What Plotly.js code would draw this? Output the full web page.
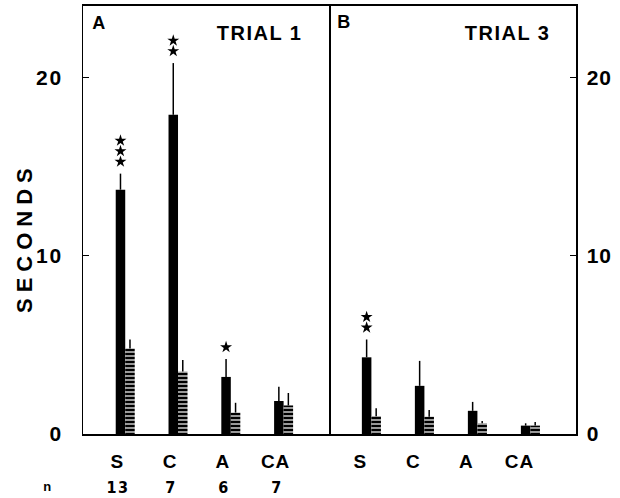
<!DOCTYPE html>
<html>
<head>
<meta charset="utf-8">
<script src="https://cdn.plot.ly/plotly-3.0.1.min.js"></script>
<style>
  html, body { margin: 0; padding: 0; background: #fff; }
  #chart { width: 620px; height: 498px; }
</style>
</head>
<body>
<div id="chart"></div>
<script>
// ---- data ----
const categories = ['S', 'C', 'A', 'CA'];
const nLabels = ['13', '7', '6', '7'];

// Trial 1 (panel A)
const trial1Solid = [13.7, 17.9, 3.2, 1.85];
const trial1SolidErr = [0.9, 2.9, 1.0, 0.8];
const trial1Hatch = [4.8, 3.5, 1.2, 1.6];
const trial1HatchErr = [0.5, 0.65, 0.55, 0.7];
const trial1Stars = [3, 2, 1, 0];

// Trial 3 (panel B)
const trial3Solid = [4.3, 2.7, 1.3, 0.47];
const trial3SolidErr = [1.0, 1.4, 0.5, 0.13];
const trial3Hatch = [1.0, 0.97, 0.6, 0.47];
const trial3HatchErr = [0.45, 0.37, 0.13, 0.2];
const trial3Stars = [2, 0, 0, 0];

const yTicks = [0, 10, 20];

// ---- styling ----
const FONT = 'Liberation Sans, Arial, Helvetica, sans-serif';
const W = 620, H = 498;
const BARGAP = 0.64;
const xIdx = categories.map((c, i) => i);
const solidOffset = -(1 - BARGAP) / 4;
const zeros = categories.map(() => 0);

function barTrace(y, err, xa, ya, hatched) {
  const t = {
    type: 'bar', x: xIdx, y: y, xaxis: xa, yaxis: ya,
    marker: { color: 'black', line: { width: 0 } },
    error_y: { type: 'data', symmetric: false, array: err, arrayminus: zeros,
               width: 0, thickness: 1.5, color: 'black' },
    showlegend: false, hoverinfo: 'skip'
  };
  if (hatched) {
    t.marker.pattern = { shape: '-', fgcolor: 'white', bgcolor: 'black', size: 4, solidity: 0.3 };
  }
  return t;
}

function starTrace(means, errs, stars, xa, ya) {
  const xs = [], ys = [];
  const gap = 0.67, step = 0.59;
  stars.forEach((n, i) => {
    for (let k = 0; k < n; k++) {
      xs.push(i + solidOffset);
      ys.push(means[i] + errs[i] + gap + k * step);
    }
  });
  return { type: 'scatter', mode: 'markers', x: xs, y: ys, xaxis: xa, yaxis: ya,
           marker: { symbol: 'star', size: 9, color: 'black' },
           showlegend: false, hoverinfo: 'skip', cliponaxis: false };
}

const data = [
  barTrace(trial1Solid, trial1SolidErr, 'x', 'y', false),
  barTrace(trial1Hatch, trial1HatchErr, 'x', 'y', true),
  barTrace(trial3Solid, trial3SolidErr, 'x2', 'y2', false),
  barTrace(trial3Hatch, trial3HatchErr, 'x2', 'y2', true),
  starTrace(trial1Solid, trial1SolidErr, trial1Stars, 'x', 'y'),
  starTrace(trial3Solid, trial3SolidErr, trial3Stars, 'x2', 'y2')
];

const yDom = [(H - 434) / H, (H - 6) / H];
const xDomA = [83 / W, 329 / W];
const xDomB = [329 / W, 576 / W];
const xRange = [-0.8, 3.86];

const tickFont = { family: FONT, size: 21, color: 'black', weight: 'bold' };
const catFont = { family: FONT, size: 19, color: 'black', weight: 'bold' };

function xAxis(domain, anchor, shift) {
  return {
    domain: domain, anchor: anchor, range: xRange,
    tickmode: 'array', tickvals: xIdx, ticktext: categories,
    ticks: '', showline: true, linewidth: 1.6, linecolor: 'black', mirror: true,
    showgrid: false, zeroline: false, tickfont: catFont,
    ticklabelstandoff: 10, ticklabelshift: shift, fixedrange: true
  };
}
function yAxis(anchor, side, mirror, standoff) {
  return {
    domain: yDom, anchor: anchor, side: side, range: [0, 24],
    tickmode: 'array', tickvals: yTicks, ticks: 'inside', ticklen: 6, tickwidth: 1.5,
    tickcolor: 'black', showline: true, linewidth: 1.5, linecolor: 'black', mirror: mirror,
    showgrid: false, zeroline: false, tickfont: tickFont, ticklabelstandoff: standoff,
    fixedrange: true
  };
}

const annFont = (s) => ({ family: FONT, size: s, color: 'black', weight: 'bold' });
const annotations = [
  { text: 'A', x: 99 / W, y: (H - 23) / H, font: annFont(18) },
  { text: 'TRIAL 1', x: 259 / W, y: (H - 33) / H, font: annFont(20) },
  { text: 'B', x: 345 / W, y: (H - 22) / H, font: annFont(18) },
  { text: 'TRIAL 3', x: 507 / W, y: (H - 33) / H, font: annFont(20) },
  { text: 'SECONDS', x: 25 / W, y: (H - 238) / H, textangle: -90, font: annFont(22) },
  { text: 'n', x: 48 / W, y: (H - 486) / H, font: { family: FONT, size: 13, color: 'black', weight: 'bold' } }
].map(a => Object.assign({ xref: 'paper', yref: 'paper', xanchor: 'center', yanchor: 'middle', showarrow: false }, a));

nLabels.forEach((t, i) => {
  annotations.push({
    text: t, x: i, xref: 'x', y: (H - 487) / H, yref: 'paper', xshift: -7,
    showarrow: false, xanchor: 'center', yanchor: 'middle',
    font: { family: 'Liberation Sans Narrow, DejaVu Sans Condensed, sans-serif', size: 16, color: 'black', weight: 'bold' }
  });
});

const layout = {
  width: W, height: H,
  margin: { l: 0, r: 0, t: 0, b: 0 },
  paper_bgcolor: 'white', plot_bgcolor: 'white',
  barmode: 'group', bargap: BARGAP, bargroupgap: 0,
  showlegend: false,
  xaxis: xAxis(xDomA, 'y', -8),
  xaxis2: xAxis(xDomB, 'y2', -11),
  yaxis: yAxis('x', 'left', true, 14),
  yaxis2: yAxis('x2', 'right', false, 5),
  annotations: annotations
};

Plotly.newPlot('chart', data, layout, { staticPlot: true, displayModeBar: false }).then(() => {
  const sp = (sel, v) => document.querySelectorAll(sel).forEach(e => { e.style.letterSpacing = v; });
  sp('.annotation-text', '1.5px');
  document.querySelectorAll('.annotation-text').forEach(e => {
    if (e.textContent === 'SECONDS') e.style.letterSpacing = '6px';
  });
  sp('.xtick text, .x2tick text', '1px');
  sp('.ytick text', '2px');
  sp('.y2tick text', '1px');
});
</script>
</body>
</html>
